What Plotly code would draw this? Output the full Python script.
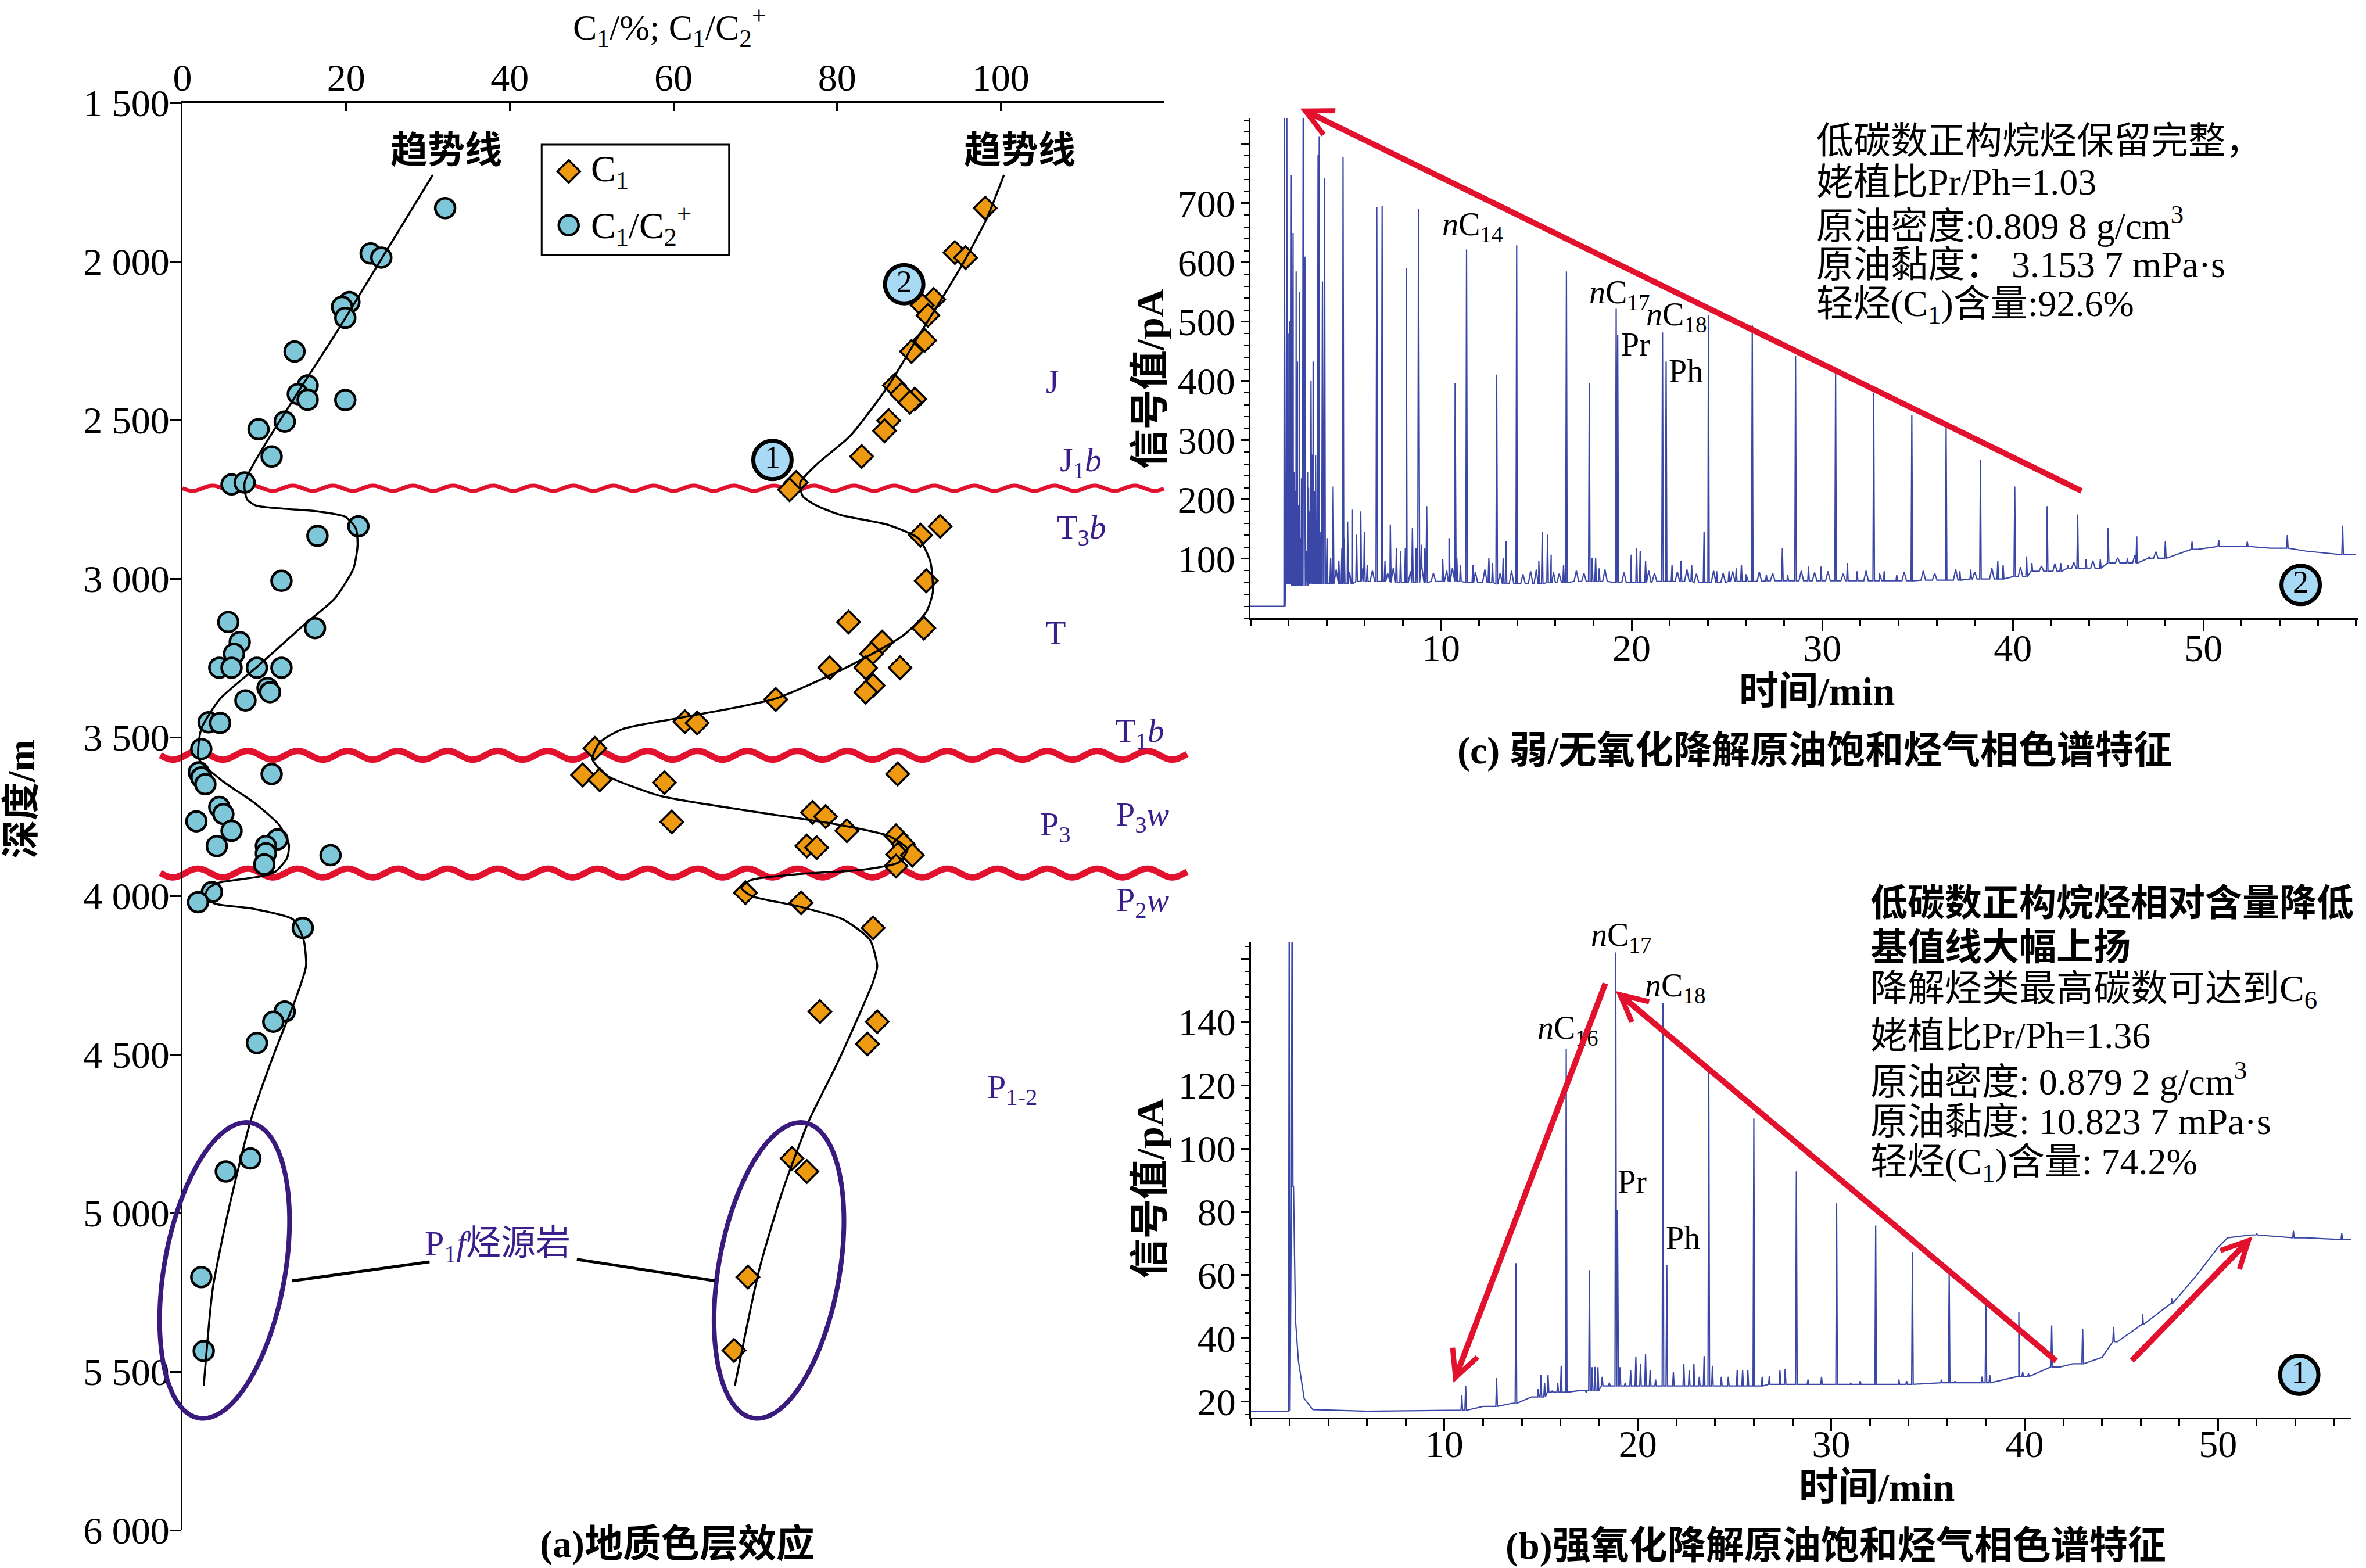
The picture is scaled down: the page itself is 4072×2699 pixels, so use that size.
import numpy as np
import plotly.graph_objects as go

W, H = 4072, 2699

# ================= Panel (a) data =================
C1_DEPTH = [1832, 1972, 1988, 2120, 2138, 2170, 2249, 2284, 2391, 2418, 2434, 2444, 2502, 2534, 2615, 2697, 2720,
            2835, 2863, 3007, 3137, 3156, 3200, 3237, 3281, 3281, 3281, 3337, 3358, 3381, 3451, 3455, 3535, 3619,
            3634, 3643, 3616, 3767, 3737, 3750, 3795, 3843, 3848, 3811, 3837, 3869, 3872, 3906, 3990, 4022, 4101,
            4365, 4397, 4467, 4828, 4869, 5202, 5433]
C1_VALUE = [98.1, 94.4, 95.7, 91.8, 90.4, 91.1, 90.7, 89.1, 87.0, 87.9, 89.5, 88.9, 86.3, 85.8, 83.0, 75.0, 74.2,
            92.6, 90.2, 90.9, 81.4, 90.6, 85.5, 84.2, 79.1, 83.5, 87.7, 84.4, 83.5, 72.5, 61.4, 62.9, 50.4, 48.9,
            51.0, 58.9, 87.4, 59.8, 77.0, 78.6, 81.2, 76.3, 77.5, 87.2, 88.1, 87.4, 89.2, 87.2, 68.8, 75.6, 84.4,
            77.9, 84.9, 83.7, 74.5, 76.3, 69.1, 67.4]

RATIO_DEPTH = [1832, 1975, 1988, 2128, 2143, 2178, 2284, 2391, 2418, 2436, 2437, 2505, 2529, 2615, 2703, 2697,
               2835, 2865, 3007, 3156, 3137, 3200, 3237, 3281, 3281, 3281, 3281, 3345, 3358, 3384, 3453, 3455,
               3537, 3611, 3627, 3648, 3616, 3720, 3742, 3765, 3795, 3822, 3843, 3843, 3866, 3901, 3872, 3988,
               4020, 4101, 4365, 4397, 4464, 4828, 4869, 5202, 5435]
RATIO_VALUE = [32.1, 23.0, 24.3, 20.4, 19.5, 19.9, 13.7, 15.3, 14.1, 15.3, 19.9, 12.5, 9.3, 10.9, 6.0, 7.6,
               21.5, 16.5, 12.1, 16.2, 5.6, 7.0, 6.3, 4.5, 6.0, 9.1, 12.1, 10.4, 10.7, 7.7, 3.2, 4.6,
               2.3, 2.0, 2.3, 2.8, 10.9, 4.5, 5.0, 1.7, 6.0, 11.6, 10.2, 4.2, 10.2, 10.0, 18.1, 3.6,
               1.9, 14.7, 12.5, 11.1, 9.1, 8.3, 5.3, 2.3, 2.6]

TREND_RATIO_DEPTH = [1727, 2200, 2697, 2750, 2770, 2780, 2788, 2805, 2842, 2895, 2968, 3063, 3147, 3274, 3379,
                     3474, 3569, 3636, 3709, 3776, 3837, 3880, 3923, 3938, 3959, 3975, 3998, 4024, 4040, 4074,
                     4138, 4222, 4320, 4504, 4712, 4994, 5239, 5545]
TREND_RATIO_VALUE = [30.6, 19.4, 7.6, 7.9, 9.0, 12.5, 16.5, 19.9, 21.2, 21.4, 20.9, 18.6, 14.8, 9.3, 4.6,
                     2.3, 2.0, 4.8, 8.9, 11.8, 13.0, 12.8, 11.4, 9.7, 4.4, 3.2, 2.8, 3.9, 8.5, 13.5,
                     14.8, 15.1, 13.9, 11.1, 8.3, 5.6, 3.7, 2.6]
TREND_C1_DEPTH = [1727, 1864, 2001, 2117, 2233, 2391, 2550, 2640, 2697, 2740, 2770, 2800, 2831, 2874, 2947, 3042,
                  3105, 3179, 3274, 3379, 3437, 3474, 3516, 3569, 3621, 3685, 3737, 3774, 3811, 3853, 3895, 3918,
                  3932, 3950, 3975, 4001, 4032, 4074, 4138, 4222, 4271, 4381, 4540, 4712, 4933, 5177, 5545]
TREND_C1_VALUE = [100.4, 98.3, 95.5, 92.8, 90.0, 86.3, 81.6, 77.5, 75.5, 75.8, 77.5, 80.5, 86.3, 90.0, 91.4, 91.7,
                  90.9, 88.1, 81.6, 72.4, 61.2, 53.8, 51.0, 50.1, 51.9, 58.4, 70.5, 79.8, 86.3, 88.6, 87.5, 83.0,
                  75.0, 69.5, 68.3, 69.6, 75.1, 80.7, 84.0, 84.9, 84.4, 82.6, 79.8, 76.5, 73.3, 70.5, 67.5]

UNCONF_DEPTH = [2715, 3557, 3928]
STRAT_TEXT = ["J", "J<sub>1</sub><i>b</i>", "T<sub>3</sub><i>b</i>", "T", "T<sub>1</sub><i>b</i>",
              "P<sub>3</sub>", "P<sub>3</sub><i>w</i>", "P<sub>2</sub><i>w</i>", "P<sub>1-2</sub>"]
STRAT_X = [106.3, 109.8, 109.9, 106.7, 117.0, 106.7, 117.4, 117.4, 101.4]
STRAT_DEPTH = [2379, 2632, 2845, 3171, 3487, 3781, 3750, 4019, 4609]

A_XTICKS = [0, 20, 40, 60, 80, 100, 120]
A_XTICKTEXT = ["0", "20", "40", "60", "80", "100", ""]
A_YTICKS = [1500, 2000, 2500, 3000, 3500, 4000, 4500, 5000, 5500, 6000]
A_YTICKTEXT = ["1 500", "2 000", "2 500", "3 000", "3 500", "4 000", "4 500", "5 000", "5 500", "6 000"]

SAMPLE_X = [72.1, 88.2]
SAMPLE_DEPTH = [2626, 2072]
SAMPLE_TEXT = ["1", "2"]
SOURCE_X = [5.15, 72.9]
SOURCE_DEPTH = [5181, 5181]
SOURCE_LABEL_X, SOURCE_LABEL_DEPTH = 38.5, 5104
SOURCE_LINK_X = [[13.4, 30.2], [48.2, 65.1]]
SOURCE_LINK_DEPTH = [[5214, 5154], [5146, 5214]]

# ================= Panel (c) chromatogram (weak/no oxidation) =================
C_BASE_T = [0, 1.76, 1.84, 2.5, 3.5, 5.0, 6.5, 8.0, 10.0, 12.0, 14.0, 16.0, 18.0, 20.0, 22.0, 24.0, 26.0, 28.0,
            30.0, 33.0, 36.0, 38.4, 40.0, 42.1, 44.0, 45.9, 47.8, 49.7, 51.6, 53.5, 55.4, 58.0]
C_BASE_V = [20, 20, 58, 55, 58, 58, 62, 60, 62, 60, 58, 60, 62, 60, 62, 60, 62, 63,
            63, 63, 64, 66, 70, 79, 84, 93, 101, 116, 121, 118, 113, 107]
C_PEAK_T = [1.78, 1.91, 2.02, 2.15, 2.24, 2.40, 2.47, 2.58, 2.77, 2.86, 3.00, 3.18, 3.29, 3.42, 3.55, 3.61, 3.89,
            4.34, 4.86, 6.63, 6.91, 8.18, 8.82, 9.25, 10.74, 11.34, 12.92, 13.97, 16.58, 17.78, 19.19, 19.27,
            21.62, 21.81, 24.03, 26.33, 28.60, 30.70, 32.70, 34.70, 36.50, 38.30, 40.10, 41.80, 43.40, 45.00,
            46.50, 48.00, 49.40, 50.80, 52.30, 54.40, 57.30]
C_PEAK_V = [900, 900, 480, 748, 650, 585, 433, 551, 900, 610, 247, 400, 433, 275, 782, 813, 742,
            222, 778, 693, 695, 591, 690, 189, 397, 622, 411, 629, 585, 397, 522, 478,
            482, 433, 511, 494, 442, 416, 380, 343, 321, 267, 222, 189, 175, 152,
            138, 130, 129, 132, 129, 140, 156]
C_NOISE_T = [1.97, 2.06, 2.12, 2.21, 2.30, 2.36, 2.43, 2.53, 2.62, 2.68, 2.94, 3.05, 3.11, 3.24, 3.37, 3.65, 3.78,
             4.02, 4.21, 4.64, 4.80, 4.92, 5.10, 5.33, 5.57, 5.79, 5.98, 6.13, 7.06, 7.34, 7.66, 7.88, 8.13, 8.50,
             8.69, 8.97, 9.15, 10.09, 10.42, 10.83, 11.02, 11.67, 12.51, 12.70, 13.26, 13.41, 15.13, 15.31, 15.59,
             15.78, 16.43, 17.93, 18.11, 18.30, 19.98, 20.26, 20.45, 20.73, 22.12, 22.59, 23.15, 23.80, 24.46,
             25.11, 25.49, 25.76, 27.07, 27.91, 28.19, 29.28, 29.94, 31.32, 31.83, 33.25, 33.91, 37.22, 37.79,
             39.21, 39.49, 40.72, 41.00, 42.51, 42.89, 43.84, 44.59, 46.01, 47.14]
C_NOISE_V = [287, 501, 118, 360, 247, 214, 304, 191, 135, 236, 113, 220, 180, 276, 214, 146, 568,
             135, 101, 96, 118, 135, 163, 183, 141, 180, 146, 90, 96, 158, 118, 113, 118, 152,
             118, 124, 118, 99, 135, 101, 90, 90, 101, 93, 101, 130, 96, 146, 141,
             107, 90, 101, 101, 84, 107, 118, 113, 96, 90, 96, 90, 146, 79,
             79, 84, 90, 73, 118, 73, 87, 87, 93, 79, 79, 73, 79, 82,
             96, 90, 104, 93, 93, 90, 99, 99, 101, 104]
# low-level baseline wiggles (estimated from the noisy band of the trace)
C_WIGGLE_T = [4.5, 5.2, 5.9, 6.4, 7.2, 7.5, 8.4, 9.0, 9.6, 10.3, 10.6, 11.8, 12.3, 13.1, 13.7, 14.3, 14.7,
              15.0, 15.9, 16.2, 17.1, 17.5, 18.6, 19.6, 20.9, 21.2, 22.4, 22.9, 23.4, 24.3, 24.8, 25.3, 26.0,
              26.7, 27.4, 28.9, 29.6, 30.3, 31.1, 32.3, 33.0, 34.3, 35.3, 35.9, 37.0, 38.0, 38.9, 40.4, 41.5,
              42.2, 43.2, 44.2, 45.5, 46.4, 47.5]
C_WIGGLE_V = [82, 78, 84, 80, 76, 85, 79, 83, 76, 80, 84, 78, 82, 76, 80, 74, 79,
              82, 78, 75, 80, 76, 82, 77, 80, 76, 78, 82, 75, 80, 76, 79, 74,
              78, 76, 80, 77, 79, 75, 80, 76, 78, 80, 76, 82, 78, 84, 86, 88,
              92, 94, 97, 102, 106, 112]
C_LABELS = ["<i>n</i>C<sub>14</sub>", "<i>n</i>C<sub>17</sub>", "<i>n</i>C<sub>18</sub>", "Pr", "Ph"]
C_LABEL_T = [10.0, 17.7, 20.7, 19.4, 21.9]
C_LABEL_V = [661, 546, 509, 462, 417]
C_ARROW_TAIL = (43.65, 213.8)
C_ARROW_HEAD = (2.62, 860)
C_INFO = ["低碳数正构烷烃保留完整，", "姥植比Pr/Ph=1.03", "原油密度:0.809 8 g/cm<sup>3</sup>",
          "原油黏度： 3.153 7 mPa·s", "轻烃(C<sub>1</sub>)含量:92.6%"]
C_YTICKS = [100, 200, 300, 400, 500, 600, 700, 800]
C_YTICKTEXT = ["100", "200", "300", "400", "500", "600", "700", ""]

# ================= Panel (b) chromatogram (strong oxidation) =================
B_BASE_T = [0, 1.93, 2.20, 2.30, 2.45, 2.75, 3.2, 6.0, 10.5, 12.0, 13.5, 14.5, 16.0, 17.0, 19.0, 22.0, 25.0,
            28.0, 31.0, 34.0, 37.0, 39.7, 41.5, 42.5, 44.0, 44.8, 46.1, 47.6, 48.9, 50.0, 50.5, 51.7, 54.5,
            56.2, 56.9]
B_BASE_V = [17, 17, 88, 46, 33, 21, 17.5, 17, 17.3, 18.5, 19.5, 21.5, 23, 23.5, 25, 25, 25,
            25.5, 25.5, 25.5, 26, 28, 31, 32, 34, 39, 44.4, 51, 60, 68.8, 71.8, 72.7, 71.8,
            71.3, 71.3]
B_PEAK_T = [1.98, 2.13, 10.9, 11.1, 12.7, 13.7, 16.3, 17.5, 18.86, 18.95, 21.3, 21.5, 23.67, 26.0, 28.2, 30.28,
            32.3, 34.2, 36.1, 38.0, 39.7, 41.4, 43.0, 44.6, 46.1, 47.6, 52.0, 53.9, 56.4]
B_PEAK_V = [200, 200, 22.0, 25.0, 27.5, 63.8, 131.6, 61.6, 162.0, 80.7, 146.0, 63.3, 124.3, 109.5, 92.8, 82.7,
            75.7, 67.3, 60.3, 51.3, 48.4, 44.1, 43.1, 43.7, 47.7, 52.6, 73.2, 74.0, 73.2]
B_NOISE_T = [14.85, 14.99, 15.18, 15.36, 15.58, 15.86, 16.04, 17.33, 17.64, 17.79, 17.94, 18.16, 18.53, 19.08,
             19.35, 19.63, 19.90, 20.14, 20.40, 20.64, 20.92, 21.84, 22.38, 22.66, 22.90, 23.18, 23.43, 23.86,
             24.32, 24.68, 25.14, 25.42, 25.69, 26.43, 26.80, 27.35, 27.62, 28.8, 29.5, 31.0, 31.5, 33.5, 33.9,
             35.7, 36.4, 37.8, 38.2, 39.9, 40.2, 41.8]
B_NOISE_V = [24.0, 28.4, 26.0, 28.4, 23.5, 26.0, 31.4, 23.0, 30.9, 31.0, 30.9, 27.9, 26.0, 30.9,
             26.0, 29.9, 34.1, 31.9, 35.1, 29.9, 27.0, 29.4, 31.9, 29.9, 31.9, 27.9, 34.4, 31.4,
             27.9, 27.9, 29.9, 29.9, 29.9, 27.9, 28.0, 29.9, 30.4, 27.0, 27.9, 26.0, 26.5, 27.0, 26.5,
             27.0, 26.5, 27.9, 28.4, 29.4, 28.9, 30.9]
B_LABELS = ["<i>n</i>C<sub>17</sub>", "<i>n</i>C<sub>18</sub>", "<i>n</i>C<sub>16</sub>", "Pr", "Ph"]
B_LABEL_T = [17.5, 20.3, 14.75, 18.9, 21.4]
B_LABEL_V = [166.8, 150.8, 137.4, 89.6, 71.7]
B_ARROW_TAILS = [(18.34, 152.5), (41.67, 32.7), (45.5, 32.7)]
B_ARROW_HEADS = [(10.47, 26.0), (18.86, 149.8), (51.78, 72.2)]
B_INFO = ["<b>低碳数正构烷烃相对含量降低</b>", "<b>基值线大幅上扬</b>", "降解烃类最高碳数可达到C<sub>6</sub>",
          "姥植比Pr/Ph=1.36", "原油密度: 0.879 2 g/cm<sup>3</sup>", "原油黏度: 10.823 7 mPa·s",
          "轻烃(C<sub>1</sub>)含量: 74.2%"]
B_YTICKS = [20, 40, 60, 80, 100, 120, 140, 160]
B_YTICKTEXT = ["20", "40", "60", "80", "100", "120", "140", ""]
RT_TICKS = [10, 20, 30, 40, 50]

# ================= geometry (pixels) =================
A_X0, A_X1, A_Y0, A_Y1 = 314, 2004, 177, 2634
A_XR, A_YR = (0, 120), (1500, 6000)
C_X0, C_X1, C_Y0, C_Y1 = 2152, 4058, 203, 1064
C_XR, C_YR = (0, 58.1), (0, 844)
B_X0, B_X1, B_Y0, B_Y1 = 2153, 4047, 1622, 2440
B_XR, B_YR = (0, 56.9), (15, 165.2)

SERIF = "Liberation Serif, Noto Sans CJK SC"
TXT = "black"
PURPLE = "#3a1f8c"
RED = "#e2112e"
CHROM = "#3b47a6"
ORANGE = "#ed9a12"
CYAN = "#7dc7d8"
BADGE = "#a9daf5"


def a_px(x, d):
    return (A_X0 + (x - A_XR[0]) / (A_XR[1] - A_XR[0]) * (A_X1 - A_X0),
            A_Y0 + (d - A_YR[0]) / (A_YR[1] - A_YR[0]) * (A_Y1 - A_Y0))


def c_px(t, v):
    return (C_X0 + (t - C_XR[0]) / (C_XR[1] - C_XR[0]) * (C_X1 - C_X0),
            C_Y1 - (v - C_YR[0]) / (C_YR[1] - C_YR[0]) * (C_Y1 - C_Y0))


def b_px(t, v):
    return (B_X0 + (t - B_XR[0]) / (B_XR[1] - B_XR[0]) * (B_X1 - B_X0),
            B_Y1 - (v - B_YR[0]) / (B_YR[1] - B_YR[0]) * (B_Y1 - B_Y0))


def pp(px, py):
    return px / W, 1 - py / H


def chrom_line(base_t, base_v, peak_t, peak_v, w=0.04):
    bt = np.asarray(base_t, float)
    pts = list(zip(base_t, base_v))
    for t, v in zip(peak_t, peak_v):
        foot = base_v[int(np.argmin(np.abs(bt - t)))]
        pts += [(t - w, foot), (t, v), (t + w, foot)]
    pts.sort(key=lambda p: p[0])
    return [p[0] for p in pts], [p[1] for p in pts]


def wiggle_line(t_list, v_list, extra_t, extra_v, w=0.12):
    pts = list(zip(t_list, v_list))
    tl = np.asarray(t_list, float)
    vl = np.asarray(v_list, float)
    for t, v in zip(extra_t, extra_v):
        k = int(np.argmin(np.abs(tl - t)))
        pts += [(t - w, vl[k]), (t, v), (t + w, vl[k])]
    pts.sort(key=lambda p: p[0])
    return [p[0] for p in pts], [p[1] for p in pts]


fig = go.Figure()

# ---------- panel (a) traces ----------
fig.add_trace(go.Scatter(x=RATIO_VALUE, y=RATIO_DEPTH, mode="markers", xaxis="x", yaxis="y",
                         marker=dict(symbol="circle", size=34, color=CYAN, line=dict(color="black", width=4.5)),
                         showlegend=False))
fig.add_trace(go.Scatter(x=C1_VALUE, y=C1_DEPTH, mode="markers", xaxis="x", yaxis="y",
                         marker=dict(symbol="diamond", size=30, color=ORANGE, line=dict(color="black", width=3.5)),
                         showlegend=False))
fig.add_trace(go.Scatter(x=TREND_RATIO_VALUE, y=TREND_RATIO_DEPTH, mode="lines", xaxis="x", yaxis="y",
                         line=dict(color="black", width=3.5, shape="spline", smoothing=0.6), showlegend=False))
fig.add_trace(go.Scatter(x=TREND_C1_VALUE, y=TREND_C1_DEPTH, mode="lines", xaxis="x", yaxis="y",
                         line=dict(color="black", width=3.5, shape="spline", smoothing=0.6), showlegend=False))
# legend key markers
fig.add_trace(go.Scatter(x=[47.2], y=[1716], mode="markers", xaxis="x", yaxis="y",
                         marker=dict(symbol="diamond", size=30, color=ORANGE, line=dict(color="black", width=3.5)),
                         showlegend=False))
fig.add_trace(go.Scatter(x=[47.2], y=[1886], mode="markers", xaxis="x", yaxis="y",
                         marker=dict(symbol="circle", size=34, color=CYAN, line=dict(color="black", width=4.5)),
                         showlegend=False))
fig.add_trace(go.Scatter(x=SAMPLE_X, y=SAMPLE_DEPTH, mode="markers+text", xaxis="x", yaxis="y",
                         text=SAMPLE_TEXT, textposition="middle center", cliponaxis=False,
                         textfont=dict(family=SERIF, size=54, color="black"),
                         marker=dict(size=66, color=BADGE, line=dict(color="black", width=7)), showlegend=False))

# ---------- panel (c) ----------
wt, wv = wiggle_line(C_BASE_T, C_BASE_V, C_WIGGLE_T, C_WIGGLE_V)
ct, cv = chrom_line(wt, wv, C_PEAK_T + C_NOISE_T, C_PEAK_V + C_NOISE_V)
fig.add_trace(go.Scatter(x=ct, y=cv, mode="lines", xaxis="x2", yaxis="y2",
                         line=dict(color=CHROM, width=2.2), showlegend=False))
fig.add_trace(go.Scatter(x=[55.1], y=[56], mode="markers+text", xaxis="x2", yaxis="y2", text=["2"],
                         textposition="middle center", cliponaxis=False,
                         textfont=dict(family=SERIF, size=54, color="black"),
                         marker=dict(size=66, color=BADGE, line=dict(color="black", width=7)), showlegend=False))

# ---------- panel (b) ----------
bt, bv = chrom_line(B_BASE_T, B_BASE_V, B_PEAK_T + B_NOISE_T, B_PEAK_V + B_NOISE_V)
fig.add_trace(go.Scatter(x=bt, y=bv, mode="lines", xaxis="x3", yaxis="y3",
                         line=dict(color=CHROM, width=2.2), showlegend=False))
fig.add_trace(go.Scatter(x=[54.2], y=[28.5], mode="markers+text", xaxis="x3", yaxis="y3", text=["1"],
                         textposition="middle center", cliponaxis=False,
                         textfont=dict(family=SERIF, size=54, color="black"),
                         marker=dict(size=66, color=BADGE, line=dict(color="black", width=7)), showlegend=False))

# ---------- shapes ----------
shapes = []


def wave(xs, xe, cy, amp, period, width):
    xx = np.arange(xs, xe + 1, 3.0)
    yy = cy + amp * np.sin(2 * np.pi * (xx - xs) / period)
    path = "M " + " L ".join(f"{x / W:.6f},{1 - y / H:.6f}" for x, y in zip(xx, yy))
    return dict(type="path", path=path, xref="paper", yref="paper", layer="below",
                line=dict(color=RED, width=width))


for i, d in enumerate(UNCONF_DEPTH):
    cy = a_px(0, d)[1]
    if i == 0:
        shapes.append(wave(A_X0, A_X1, cy, 4.5, 69, 7))
    else:
        shapes.append(wave(276, 2044, cy, 7.5, 86, 11))


def ellipse(cx, cy, a, b, theta):
    th = np.radians(theta)
    u = (np.sin(th), -np.cos(th))
    r = (np.cos(th), np.sin(th))
    ph = np.linspace(0, 2 * np.pi, 160, endpoint=False)
    xs = cx + b * np.cos(ph) * r[0] + a * np.sin(ph) * u[0]
    ys = cy + b * np.cos(ph) * r[1] + a * np.sin(ph) * u[1]
    path = "M " + " L ".join(f"{x / W:.6f},{1 - y / H:.6f}" for x, y in zip(xs, ys)) + " Z"
    return dict(type="path", path=path, xref="paper", yref="paper", layer="above",
                line=dict(color="#3a1a7d", width=8))


for x, d in zip(SOURCE_X, SOURCE_DEPTH):
    cx, cy = a_px(x, d)
    shapes.append(ellipse(cx, cy, 258, 104, 10))

for lx, ld in zip(SOURCE_LINK_X, SOURCE_LINK_DEPTH):
    shapes.append(dict(type="line", xref="x", yref="y", x0=lx[0], y0=ld[0], x1=lx[1], y1=ld[1],
                       line=dict(color="black", width=5)))

# legend box
shapes.append(dict(type="rect", xref="x", yref="y", x0=43.9, x1=66.8, y0=1632, y1=1980,
                   fillcolor="white", line=dict(color="black", width=3), layer="below"))

# ---------- annotations ----------
ann = []


def text_px(px, py, s, size=60, color=TXT, xanchor="center", yanchor="middle", angle=0):
    x, y = pp(px, py)
    ann.append(dict(x=x, y=y, xref="paper", yref="paper", text=s, showarrow=False, xanchor=xanchor,
                    yanchor=yanchor, textangle=angle, font=dict(family=SERIF, size=size, color=color)))


# panel (a) texts
text_px(1152, 46, "C<sub>1</sub>/%; C<sub>1</sub>/C<sub>2</sub><sup>+</sup>", size=62)
text_px(36, 1376, "<b>深度/m</b>", size=66, angle=-90)
text_px(1165, 2658, "<b>(a)地质色层效应</b>", size=66)
text_px(768, 258, "<b>趋势线</b>", size=64)
text_px(1755, 258, "<b>趋势线</b>", size=64)
lx, ly = a_px(49.8, 1716)
text_px(lx, ly, "C<sub>1</sub>", size=64, xanchor="left")
lx, ly = a_px(49.8, 1886)
text_px(lx, ly, "C<sub>1</sub>/C<sub>2</sub><sup>+</sup>", size=64, xanchor="left")
for s, x, d in zip(STRAT_TEXT, STRAT_X, STRAT_DEPTH):
    px, py = a_px(x, d)
    text_px(px, py, s, size=58, color=PURPLE)
px, py = a_px(SOURCE_LABEL_X, SOURCE_LABEL_DEPTH)
text_px(px, py, "P<sub>1</sub><i>f</i>烃源岩", size=60, color=PURPLE)

# panel (c) texts
text_px(1979, 652, "<b>信号值/pA</b>", size=68, angle=-90)
text_px(3127, 1190, "<b>时间/min</b>", size=68)
text_px(3123, 1292, "<b>(c) 弱/无氧化降解原油饱和烃气相色谱特征</b>", size=66)
for s, yy in zip(C_INFO, [243, 313, 384, 456, 527]):
    text_px(3124, yy, s, size=64, xanchor="left")
for s, t, v in zip(C_LABELS, C_LABEL_T, C_LABEL_V):
    px, py = c_px(t, v)
    text_px(px, py, s, size=56, xanchor="left")

# panel (b) texts
text_px(1979, 2045, "<b>信号值/pA</b>", size=68, angle=-90)
text_px(3230, 2560, "<b>时间/min</b>", size=68)
text_px(3159, 2661, "<b>(b)强氧化降解原油饱和烃气相色谱特征</b>", size=66)
for s, yy in zip(B_INFO, [1554, 1630, 1706, 1782, 1858, 1931, 2004]):
    text_px(3217, yy, s, size=64, xanchor="left")
for s, t, v in zip(B_LABELS, B_LABEL_T, B_LABEL_V):
    px, py = b_px(t, v)
    text_px(px, py, s, size=56, xanchor="left")


def arrow(head_px, tail_px):
    hx, hy = pp(*head_px)
    ann.append(dict(x=hx, y=hy, xref="paper", yref="paper", ax=tail_px[0] - head_px[0],
                    ay=tail_px[1] - head_px[1], axref="pixel", ayref="pixel", text="", showarrow=True,
                    arrowhead=5, arrowsize=0.9, arrowwidth=10, arrowcolor=RED, standoff=0))


arrow(c_px(*C_ARROW_HEAD), c_px(*C_ARROW_TAIL))
for hd, tl in zip(B_ARROW_HEADS, B_ARROW_TAILS):
    arrow(b_px(*hd), b_px(*tl))

# ---------- axes ----------
tickfont = dict(family="Liberation Serif", size=66, color="black")
common = dict(showgrid=False, zeroline=False, showline=True, linecolor="black", tickcolor="black",
              tickfont=tickfont, automargin=False)

fig.update_layout(
    width=W, height=H, margin=dict(l=0, r=0, t=0, b=0, autoexpand=False),
    paper_bgcolor="white", plot_bgcolor="rgba(0,0,0,0)", showlegend=False,
    font=dict(family=SERIF, color="black"),
    xaxis=dict(domain=[A_X0 / W, A_X1 / W], range=list(A_XR), side="top", anchor="y",
               tickmode="array", tickvals=A_XTICKS, ticktext=A_XTICKTEXT, ticks="inside", ticklen=14,
               tickwidth=3, linewidth=3, ticklabelstandoff=-8, **common),
    yaxis=dict(domain=[1 - A_Y1 / H, 1 - A_Y0 / H], range=[A_YR[1], A_YR[0]], anchor="x",
               tickmode="array", tickvals=A_YTICKS, ticktext=A_YTICKTEXT, ticks="outside", ticklen=18,
               tickwidth=3, linewidth=3, ticklabelstandoff=-12, **common),
    xaxis2=dict(domain=[C_X0 / W, C_X1 / W], range=list(C_XR), anchor="y2",
                tickmode="array", tickvals=RT_TICKS, ticks="outside", ticklen=20, tickwidth=2.5, linewidth=3,
                ticklabelstandoff=-28,
                minor=dict(tickmode="linear", tick0=0, dtick=2, ticks="outside", ticklen=11, tickwidth=2.5,
                           tickcolor="black"), **common),
    yaxis2=dict(domain=[1 - C_Y1 / H, 1 - C_Y0 / H], range=list(C_YR), anchor="x2",
                tickmode="array", tickvals=C_YTICKS, ticktext=C_YTICKTEXT, ticks="outside", ticklen=14,
                tickwidth=2.5, linewidth=3, ticklabelstandoff=-4,
                minor=dict(tickmode="linear", tick0=0, dtick=20, ticks="outside", ticklen=8, tickwidth=2,
                           tickcolor="black"), **common),
    xaxis3=dict(domain=[B_X0 / W, B_X1 / W], range=list(B_XR), anchor="y3",
                tickmode="array", tickvals=RT_TICKS, ticks="outside", ticklen=20, tickwidth=2.5, linewidth=3,
                ticklabelstandoff=-34,
                minor=dict(tickmode="linear", tick0=0, dtick=2, ticks="outside", ticklen=11, tickwidth=2.5,
                           tickcolor="black"), **common),
    yaxis3=dict(domain=[1 - B_Y1 / H, 1 - B_Y0 / H], range=list(B_YR), anchor="x3",
                tickmode="array", tickvals=B_YTICKS, ticktext=B_YTICKTEXT, ticks="outside", ticklen=14,
                tickwidth=2.5, linewidth=3, ticklabelstandoff=-4,
                minor=dict(tickmode="linear", tick0=0, dtick=4, ticks="outside", ticklen=8, tickwidth=2,
                           tickcolor="black"), **common),
    shapes=shapes, annotations=ann,
)

fig.write_html("out.html", config={"displayModeBar": False},
               post_script="document.body.style.margin='0px';")
